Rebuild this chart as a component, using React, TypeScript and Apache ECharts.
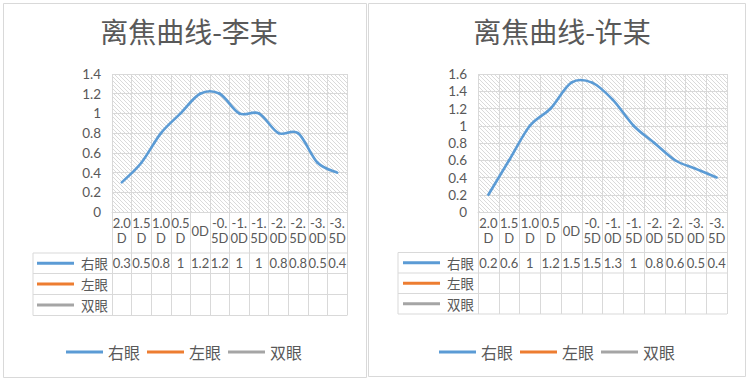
import React, { useEffect, useRef } from "react";
import * as echarts from "echarts";

const categories = ["2.0D", "1.5D", "1.0D", "0.5D", "0D", "-0.5D", "-1.0D", "-1.5D", "-2.0D", "-2.5D", "-3.0D", "-3.5D"];
const liRightEye = [0.3, 0.5, 0.8, 1, 1.2, 1.2, 1, 1, 0.8, 0.8, 0.5, 0.4];
const xuRightEye = [0.2, 0.6, 1, 1.2, 1.5, 1.5, 1.3, 1, 0.8, 0.6, 0.5, 0.4];
const seriesNames = ["右眼", "左眼", "双眼"];
const titles = ["离焦曲线-李某", "离焦曲线-许某"];
const yMaxes = [1.4, 1.6];
const yInterval = 0.2;

const COLORS = ["#5B9BD5", "#ED7D31", "#A5A5A5"];
const TEXT = "#595959";
const GRIDLINE = "#d9d9d9";
const FONT = "Lato, 'Noto Sans CJK SC', sans-serif";
const CJK = "'Noto Sans CJK SC', sans-serif";

const panels = [
  { gridLeft: 112, gridWidth: 235, titleX: 184, tableLeft: 33, rows: [253, 273.5, 294.5, 315.5], legendLeft: 66, keyLeft: 37, box: [3.5, 3.5, 363, 374] },
  { gridLeft: 478, gridWidth: 249, titleX: 557, tableLeft: 398, rows: [252.5, 273, 293.5, 314], legendLeft: 439, keyLeft: 403, box: [368.5, 3.5, 377, 373] },
];
const GRID_TOP = 74;
const GRID_H = 138;
const AXIS_Y = GRID_TOP + GRID_H;

function makePattern() {
  const c = document.createElement("canvas");
  c.width = 8;
  c.height = 8;
  const ctx = c.getContext("2d")!;
  ctx.fillStyle = "#ffffff";
  ctx.fillRect(0, 0, 8, 8);
  ctx.strokeStyle = "#dadada";
  ctx.lineWidth = 1;
  for (let o = -8; o <= 8; o += 4) {
    ctx.beginPath();
    ctx.moveTo(o, 0);
    ctx.lineTo(o + 8, 8);
    ctx.stroke();
  }
  return { image: c, repeat: "repeat" };
}

// Excel-like smoothed line (Catmull-Rom style Bezier segments) drawn through the axes' coords
function smoothRenderer(values: number[], color: string) {
  return (params: any, api: any) => {
    const k = params.dataIndex;
    const n = values.length;
    if (k >= n - 1) return null;
    const pt = (j: number) => {
      const jj = Math.max(0, Math.min(n - 1, j));
      return api.coord([jj, values[jj]]);
    };
    const p0 = pt(k - 1);
    const p1 = pt(k);
    const p2 = pt(k + 1);
    const p3 = pt(k + 2);
    return {
      type: "bezierCurve",
      shape: {
        x1: p1[0],
        y1: p1[1],
        cpx1: p1[0] + (p2[0] - p0[0]) / 6,
        cpy1: p1[1] + (p2[1] - p0[1]) / 6,
        cpx2: p2[0] - (p3[0] - p1[0]) / 6,
        cpy2: p2[1] - (p3[1] - p1[1]) / 6,
        x2: p2[0],
        y2: p2[1],
      },
      style: { stroke: color, lineWidth: 2.6, fill: "none", lineCap: "round" },
    };
  };
}

export default function App() {
  const ref = useRef<HTMLDivElement>(null);
  useEffect(() => {
    document.body.style.margin = "0";
    const chart = echarts.init(ref.current!, null, { renderer: "svg" });
    const pattern = makePattern();
    const dataSets = [liRightEye, xuRightEye];

    const grid: any[] = [];
    const xAxis: any[] = [];
    const yAxis: any[] = [];
    const series: any[] = [];
    const legend: any[] = [];
    const title: any[] = [];
    const graphic: any[] = [];

    panels.forEach((p, i) => {
      grid.push({ left: p.gridLeft, top: GRID_TOP, width: p.gridWidth, height: GRID_H, show: true, backgroundColor: pattern, borderWidth: 0 });
      xAxis.push({
        gridIndex: i,
        type: "category",
        data: categories,
        boundaryGap: true,
        position: "bottom",
        axisLine: { show: true, onZero: false, lineStyle: { color: GRIDLINE } },
        axisTick: { show: true, interval: 0, length: p.rows[3] - AXIS_Y, lineStyle: { color: GRIDLINE } },
        axisLabel: {
          interval: 0,
          formatter: (s: string) => (s.length > 3 ? s.slice(0, 3) + "\n" + s.slice(3) : s),
          verticalAlign: "middle",
          margin: 18.5,
          fontSize: 13,
          lineHeight: 15,
          color: TEXT,
          fontFamily: FONT,
        },
        splitLine: { show: true, interval: 0, lineStyle: { color: GRIDLINE } },
      });
      xAxis.push({
        gridIndex: i,
        type: "category",
        data: dataSets[i].map((v) => String(v)),
        boundaryGap: true,
        position: "bottom",
        axisLine: { show: false, onZero: false },
        axisTick: { show: false },
        axisLabel: {
          interval: 0,
          verticalAlign: "middle",
          margin: (p.rows[0] + p.rows[1]) / 2 - AXIS_Y,
          fontSize: 13,
          color: TEXT,
          fontFamily: FONT,
        },
        splitLine: { show: false },
      });
      yAxis.push({
        gridIndex: i,
        type: "value",
        min: 0,
        max: yMaxes[i],
        interval: yInterval,
        axisLine: { show: false },
        axisTick: { show: false },
        axisLabel: { margin: 11, fontSize: 13.5, color: TEXT, fontFamily: FONT },
        splitLine: { show: true, lineStyle: { color: GRIDLINE } },
      });
      seriesNames.forEach((name, j) => {
        if (j === 0) {
          series.push({
            name,
            type: "custom",
            xAxisIndex: i * 2,
            yAxisIndex: i,
            data: dataSets[i].map((v, k) => [k, v]),
            encode: { x: 0, y: 1 },
            color: COLORS[j],
            itemStyle: { color: COLORS[j] },
            renderItem: smoothRenderer(dataSets[i], COLORS[j]),
          });
        } else {
          series.push({
            name,
            type: "line",
            xAxisIndex: i * 2,
            yAxisIndex: i,
            data: [],
            symbol: "none",
            color: COLORS[j],
            itemStyle: { color: COLORS[j] },
            lineStyle: { width: 2.5, color: COLORS[j] },
          });
        }
        legend.push({
          data: [name],
          left: p.keyLeft,
          top: (p.rows[j] + p.rows[j + 1]) / 2 - 7,
          icon: "rect",
          itemWidth: 37,
          itemHeight: 3,
          padding: 0,
          selectedMode: false,
          textStyle: { fontSize: 13.5, lineHeight: 14, color: TEXT, fontFamily: CJK, padding: [0, 0, 0, 2] },
        });
      });
      legend.push({
        data: seriesNames,
        left: p.legendLeft,
        top: 343,
        icon: "rect",
        itemWidth: 37,
        itemHeight: 3,
        itemGap: 7,
        padding: 0,
        selectedMode: false,
        textStyle: { fontSize: 16, lineHeight: 18, color: TEXT, fontFamily: CJK },
      });
      title.push({
        text: titles[i],
        left: p.titleX,
        top: 12,
        textAlign: "center",
        textStyle: { fontSize: 28, fontWeight: "normal", color: TEXT, fontFamily: CJK },
      });
      graphic.push({
        type: "rect",
        shape: { x: p.box[0], y: p.box[1], width: p.box[2], height: p.box[3] },
        style: { fill: "none", stroke: GRIDLINE, lineWidth: 1 },
        silent: true,
      });
      p.rows.forEach((y) => {
        graphic.push({
          type: "line",
          shape: { x1: p.tableLeft, y1: y, x2: p.gridLeft + p.gridWidth, y2: y },
          style: { stroke: GRIDLINE, lineWidth: 1 },
          silent: true,
        });
      });
      graphic.push({
        type: "line",
        shape: { x1: p.tableLeft, y1: p.rows[0], x2: p.tableLeft, y2: p.rows[3] },
        style: { stroke: GRIDLINE, lineWidth: 1 },
        silent: true,
      });
    });

    chart.setOption({
      animation: false,
      backgroundColor: "#ffffff",
      title,
      grid,
      xAxis,
      yAxis,
      series,
      legend,
      graphic,
    });
    return () => chart.dispose();
  }, []);
  return <div ref={ref} style={{ width: 750, height: 382, position: "fixed", left: 0, top: 0, background: "#fff" }} />;
}
